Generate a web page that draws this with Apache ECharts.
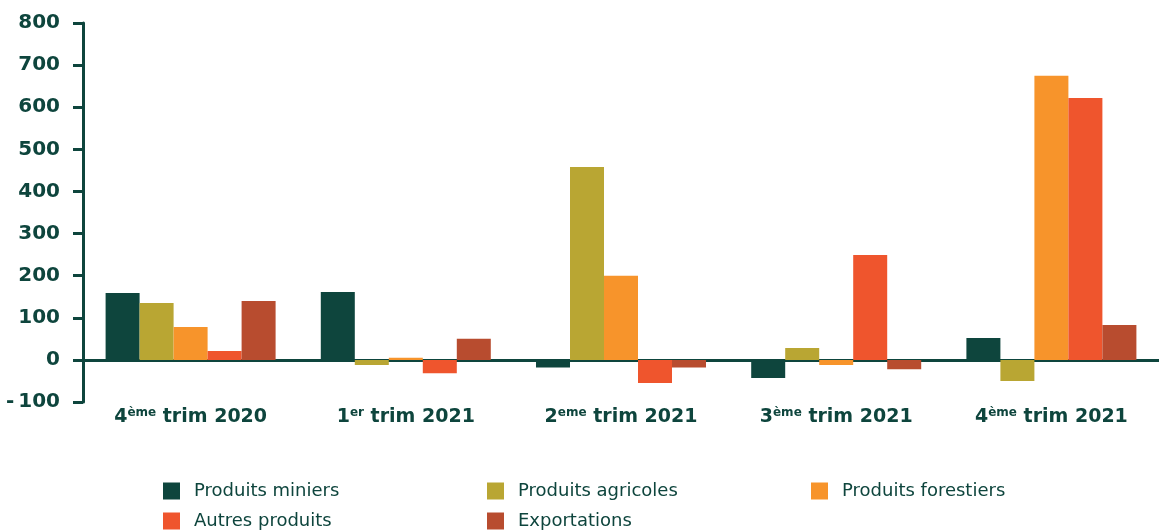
<!DOCTYPE html>
<html>
<head>
<meta charset="utf-8">
<script src="https://cdn.jsdelivr.net/npm/echarts@6/dist/echarts.min.js"></script>
<style>
  html, body { margin: 0; padding: 0; background: #fff; }
  #chart { width: 1159px; height: 530px; }
</style>
</head>
<body>
<div id="chart"></div>
<script>
// trimestres : chiffre, exposant, reste du libellé
var catNum = ['4', '1', '2', '3', '4'];
var catSup = ['ème', 'er', 'eme', 'ème', 'ème'];
var catRest = [' trim 2020', ' trim 2021', ' trim 2021', ' trim 2021', ' trim 2021'];

var seriesNames = ['Produits miniers', 'Produits agricoles', 'Produits forestiers', 'Autres produits', 'Exportations'];
var miniers = [159, 161, -18, -43, 52];
var agricoles = [135, -12, 458, 28, -50];
var forestiers = [78, 5, 200, -12, 675];
var autres = [21, -32, -55, 249, 622];
var exportations = [140, 50, -18, -22, 83];

var yTicks = [-100, 0, 100, 200, 300, 400, 500, 600, 700, 800];

var colors = ['#0e453d', '#b9a633', '#f7942b', '#ef552d', '#b84c2f'];
var txt = '#0e453d';

var dom = document.getElementById('chart');
var myChart = echarts.init(dom);

var values = [miniers, agricoles, forestiers, autres, exportations];
var series = seriesNames.map(function (n, i) {
    return {
        name: n,
        type: 'bar',
        barWidth: 34,
        barGap: '0%',
        itemStyle: { color: colors[i] },
        data: values[i]
    };
});

// légende sur 3 colonnes, 2 lignes
var legendPos = [[163, 482], [487, 482], [811, 482], [163, 512], [487, 512]];
var legends = seriesNames.map(function (n, i) {
    return {
        left: legendPos[i][0],
        top: legendPos[i][1],
        padding: 0,
        data: [n],
        itemWidth: 17,
        itemHeight: 17,
        icon: 'rect',
        textStyle: { color: txt, fontSize: 18, fontFamily: 'DejaVu Sans', padding: [0, 0, 0, 9] }
    };
});

var option = {
    animation: false,
    color: colors,
    grid: { left: 83, right: 0, top: 23, bottom: 128, containLabel: false },
    legend: legends,
    xAxis: {
        type: 'category',
        data: catNum.map(function (c, i) { return c + catSup[i] + catRest[i]; }),
        axisLine: { onZero: true, lineStyle: { color: txt, width: 3 } },
        axisTick: { show: false },
        axisLabel: {
            interval: 0,
            margin: 5,
            color: txt,
            fontSize: 19,
            fontWeight: 'bold',
            fontFamily: 'DejaVu Sans',
            formatter: function (v, i) {
                return catNum[i] + '{s|' + catSup[i] + '}' + catRest[i];
            },
            rich: {
                s: { fontSize: 12, fontWeight: 'bold', fontFamily: 'DejaVu Sans', color: txt, verticalAlign: 'top', padding: [0, 0, 9, 0] }
            }
        }
    },
    yAxis: {
        type: 'value',
        min: yTicks[0],
        max: yTicks[yTicks.length - 1],
        interval: 100,
        splitLine: { show: false },
        axisLine: { show: true, lineStyle: { color: txt, width: 3 } },
        axisTick: { show: true, length: 10, lineStyle: { color: txt, width: 3 } },
        axisLabel: {
            margin: 23,
            color: txt,
            fontSize: 20,
            fontWeight: 'bold',
            fontFamily: 'DejaVu Sans',
            formatter: function (v) { return v < 0 ? '-\u2009' + Math.abs(v) : String(v); }
        }
    },
    series: series
};

myChart.setOption(option, true);
</script>
</body>
</html>
